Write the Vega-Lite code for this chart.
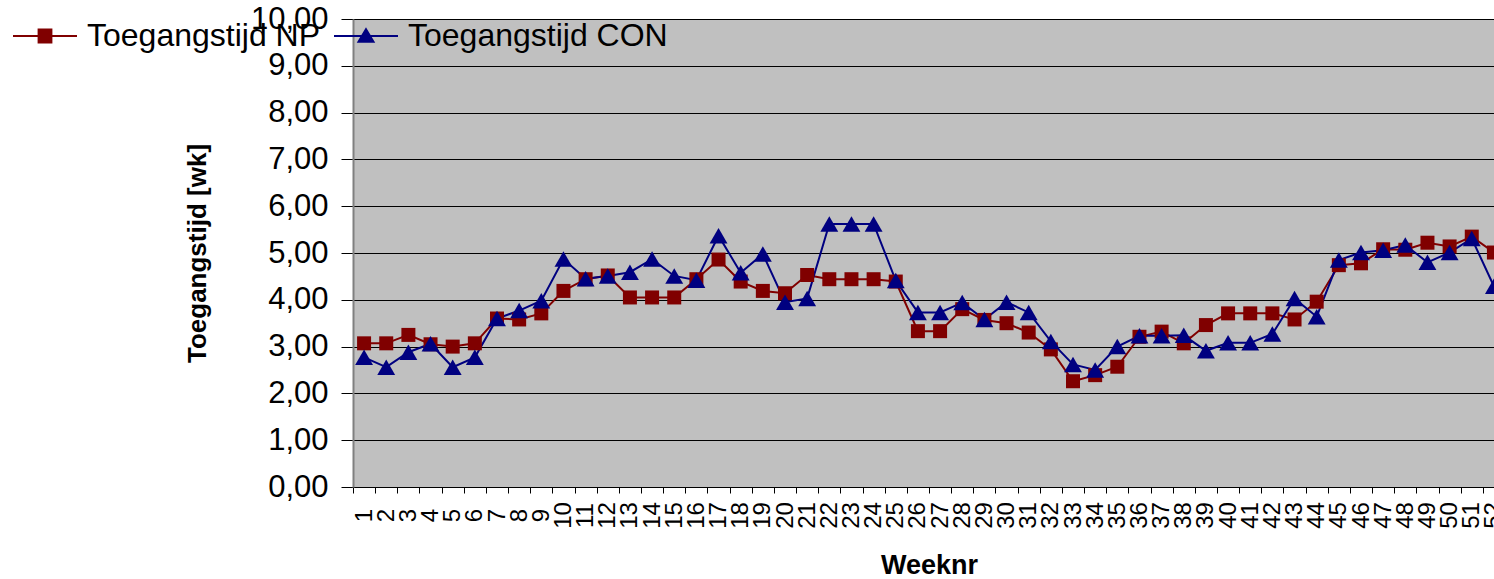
{
  "$schema": "https://vega.github.io/schema/vega-lite/v6.json",
  "autosize": {"type": "none"},
  "padding": {"left": 353, "top": 19, "right": 0, "bottom": 92},
  "width": 1152,
  "height": 468,
  "background": "white",
  "config": {
    "view": {"fill": "#C0C0C0", "stroke": null},
    "font": "Liberation Sans"
  },
  "data": {
    "values": [
      {"week": 1, "Toegangstijd NP": 3.07, "Toegangstijd CON": 2.77},
      {"week": 2, "Toegangstijd NP": 3.07, "Toegangstijd CON": 2.56},
      {"week": 3, "Toegangstijd NP": 3.25, "Toegangstijd CON": 2.88},
      {"week": 4, "Toegangstijd NP": 3.05, "Toegangstijd CON": 3.06},
      {"week": 5, "Toegangstijd NP": 3.0, "Toegangstijd CON": 2.56},
      {"week": 6, "Toegangstijd NP": 3.07, "Toegangstijd CON": 2.77},
      {"week": 7, "Toegangstijd NP": 3.6, "Toegangstijd CON": 3.6},
      {"week": 8, "Toegangstijd NP": 3.58, "Toegangstijd CON": 3.77},
      {"week": 9, "Toegangstijd NP": 3.71, "Toegangstijd CON": 3.98},
      {"week": 10, "Toegangstijd NP": 4.19, "Toegangstijd CON": 4.87},
      {"week": 11, "Toegangstijd NP": 4.44, "Toegangstijd CON": 4.45},
      {"week": 12, "Toegangstijd NP": 4.52, "Toegangstijd CON": 4.51},
      {"week": 13, "Toegangstijd NP": 4.05, "Toegangstijd CON": 4.59},
      {"week": 14, "Toegangstijd NP": 4.05, "Toegangstijd CON": 4.87},
      {"week": 15, "Toegangstijd NP": 4.05, "Toegangstijd CON": 4.51},
      {"week": 16, "Toegangstijd NP": 4.44, "Toegangstijd CON": 4.42},
      {"week": 17, "Toegangstijd NP": 4.86, "Toegangstijd CON": 5.37},
      {"week": 18, "Toegangstijd NP": 4.39, "Toegangstijd CON": 4.58},
      {"week": 19, "Toegangstijd NP": 4.19, "Toegangstijd CON": 4.98},
      {"week": 20, "Toegangstijd NP": 4.14, "Toegangstijd CON": 3.95},
      {"week": 21, "Toegangstijd NP": 4.53, "Toegangstijd CON": 4.03},
      {"week": 22, "Toegangstijd NP": 4.44, "Toegangstijd CON": 5.62},
      {"week": 23, "Toegangstijd NP": 4.44, "Toegangstijd CON": 5.62},
      {"week": 24, "Toegangstijd NP": 4.44, "Toegangstijd CON": 5.62},
      {"week": 25, "Toegangstijd NP": 4.39, "Toegangstijd CON": 4.41},
      {"week": 26, "Toegangstijd NP": 3.33, "Toegangstijd CON": 3.73},
      {"week": 27, "Toegangstijd NP": 3.33, "Toegangstijd CON": 3.73},
      {"week": 28, "Toegangstijd NP": 3.8, "Toegangstijd CON": 3.94},
      {"week": 29, "Toegangstijd NP": 3.57, "Toegangstijd CON": 3.58},
      {"week": 30, "Toegangstijd NP": 3.5, "Toegangstijd CON": 3.95},
      {"week": 31, "Toegangstijd NP": 3.3, "Toegangstijd CON": 3.73},
      {"week": 32, "Toegangstijd NP": 2.94, "Toegangstijd CON": 3.11},
      {"week": 33, "Toegangstijd NP": 2.26, "Toegangstijd CON": 2.62},
      {"week": 34, "Toegangstijd NP": 2.39, "Toegangstijd CON": 2.5},
      {"week": 35, "Toegangstijd NP": 2.57, "Toegangstijd CON": 3.0},
      {"week": 36, "Toegangstijd NP": 3.21, "Toegangstijd CON": 3.23},
      {"week": 37, "Toegangstijd NP": 3.32, "Toegangstijd CON": 3.23},
      {"week": 38, "Toegangstijd NP": 3.07, "Toegangstijd CON": 3.24},
      {"week": 39, "Toegangstijd NP": 3.46, "Toegangstijd CON": 2.91},
      {"week": 40, "Toegangstijd NP": 3.71, "Toegangstijd CON": 3.08},
      {"week": 41, "Toegangstijd NP": 3.71, "Toegangstijd CON": 3.08},
      {"week": 42, "Toegangstijd NP": 3.71, "Toegangstijd CON": 3.27},
      {"week": 43, "Toegangstijd NP": 3.58, "Toegangstijd CON": 4.03},
      {"week": 44, "Toegangstijd NP": 3.96, "Toegangstijd CON": 3.64},
      {"week": 45, "Toegangstijd NP": 4.74, "Toegangstijd CON": 4.85},
      {"week": 46, "Toegangstijd NP": 4.78, "Toegangstijd CON": 5.01},
      {"week": 47, "Toegangstijd NP": 5.08, "Toegangstijd CON": 5.06},
      {"week": 48, "Toegangstijd NP": 5.07, "Toegangstijd CON": 5.17},
      {"week": 49, "Toegangstijd NP": 5.22, "Toegangstijd CON": 4.8},
      {"week": 50, "Toegangstijd NP": 5.14, "Toegangstijd CON": 5.01},
      {"week": 51, "Toegangstijd NP": 5.35, "Toegangstijd CON": 5.31},
      {"week": 52, "Toegangstijd NP": 5.01, "Toegangstijd CON": 4.29}
    ]
  },
  "transform": [
    {"fold": ["Toegangstijd NP", "Toegangstijd CON"], "as": ["series", "value"]}
  ],
  "encoding": {
    "x": {
      "field": "week",
      "type": "ordinal",
      "scale": {"paddingInner": 0, "paddingOuter": 0},
      "axis": {
        "title": "Weeknr",
        "titleFont": "Liberation Sans",
        "titleFontSize": 27,
        "titleFontWeight": "bold",
        "titleColor": "#000000",
        "titlePadding": 24,
        "labelFont": "Liberation Sans",
        "labelFontSize": 24,
        "labelColor": "#000000",
        "labelAngle": 270,
        "labelAlign": "center",
        "labelBaseline": "middle",
        "labelPadding": 22,
        "labelOverlap": false,
        "tickBand": "extent",
        "tickSize": 6,
        "tickColor": "#000000",
        "domainColor": "#000000",
        "domainWidth": 1,
        "grid": false
      }
    },
    "y": {
      "field": "value",
      "type": "quantitative",
      "scale": {"domain": [0, 10], "nice": false, "zero": true},
      "axis": {
        "title": "Toegangstijd [wk]",
        "titleFont": "Liberation Sans",
        "titleFontSize": 26,
        "titleFontWeight": "bold",
        "titleColor": "#000000",
        "titlePadding": 40,
        "values": [0, 1, 2, 3, 4, 5, 6, 7, 8, 9, 10],
        "labelExpr": "replace(format(datum.value, '.2f'), '.', ',')",
        "labelFont": "Liberation Sans",
        "labelFontSize": 31,
        "labelColor": "#000000",
        "labelPadding": 13,
        "tickSize": 12,
        "tickColor": "#000000",
        "domainColor": "#808080",
        "domainWidth": 2,
        "grid": true,
        "gridColor": "#000000",
        "gridWidth": 1,
        "gridOpacity": 1
      }
    }
  },
  "layer": [
    {
      "mark": {"type": "line", "strokeWidth": 2},
      "encoding": {
        "stroke": {
          "field": "series",
          "type": "nominal",
          "scale": {"domain": ["Toegangstijd NP", "Toegangstijd CON"], "range": ["#800000", "#000080"]}
        }
      }
    },
    {
      "transform": [{"filter": "datum.series === 'Toegangstijd NP'"}],
      "mark": {"type": "point", "shape": "square", "size": 196, "filled": true, "opacity": 1, "strokeWidth": 0, "color": "#800000"}
    },
    {
      "transform": [{"filter": "datum.series === 'Toegangstijd CON'"}],
      "mark": {"type": "point", "shape": "triangle-up", "size": 320, "filled": true, "opacity": 1, "strokeWidth": 0, "color": "#000080"}
    },
    {
      "transform": [{"filter": "false"}],
      "mark": {"type": "point", "filled": true, "opacity": 1, "strokeWidth": 2},
      "encoding": {
        "fill": {
          "field": "series",
          "type": "nominal",
          "scale": {"domain": ["Toegangstijd NP", "Toegangstijd CON"], "range": ["#800000", "#000080"]}
        },
        "stroke": {
          "field": "series",
          "type": "nominal",
          "scale": {"domain": ["Toegangstijd NP", "Toegangstijd CON"], "range": ["#800000", "#000080"]}
        },
        "shape": {
          "field": "series",
          "type": "nominal",
          "scale": {
            "domain": ["Toegangstijd NP", "Toegangstijd CON"],
            "range": [
              "M-1,0L1,0M-0.2,-0.2L0.2,-0.2L0.2,0.2L-0.2,0.2Z",
              "M-1,0L1,0M0,-0.21L0.234,0.18L-0.234,0.18Z"
            ]
          },
          "legend": {
            "orient": "none",
            "legendX": -341,
            "legendY": -16,
            "direction": "horizontal",
            "title": null,
            "padding": 0,
            "labelFont": "Liberation Sans",
            "labelFontSize": 32,
            "labelColor": "#000000",
            "labelLimit": 0,
            "labelOffset": 9,
            "columnPadding": 9,
            "symbolSize": 4096,
            "symbolStrokeWidth": 2,
            "symbolOpacity": 1
          }
        }
      }
    }
  ]
}
